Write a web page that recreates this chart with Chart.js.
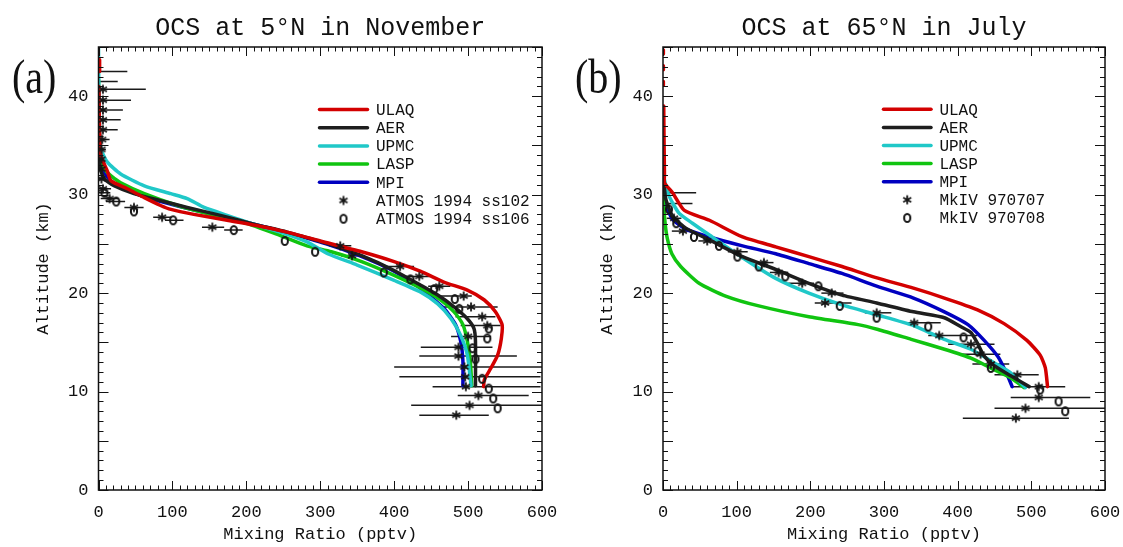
<!DOCTYPE html>
<html>
<head>
<meta charset="utf-8">
<script src="https://cdn.jsdelivr.net/npm/chart.js@4.4.1/dist/chart.umd.min.js"></script>
<style>
html,body{margin:0;padding:0;background:#fff;width:1123px;height:547px;overflow:hidden}
#ca{position:absolute;left:0;top:0}
#cb{position:absolute;left:560px;top:0}
</style>
</head>
<body>
<canvas id="ca" width="560" height="547"></canvas>
<canvas id="cb" width="563" height="547"></canvas>
<script>
// ---------------- DATA ----------------
const modelNames = ['ULAQ', 'AER', 'UPMC', 'LASP', 'MPI'];
const obsNamesA = ['ATMOS 1994 ss102', 'ATMOS 1994 ss106'];
const obsNamesB = ['MkIV 970707', 'MkIV 970708'];
const titleA = 'OCS at 5°N in November';
const titleB = 'OCS at 65°N in July';
const xTickValues = [0, 100, 200, 300, 400, 500, 600];
const yTickValues = [0, 10, 20, 30, 40];

// Panel (a): model profiles (altitude km, mixing ratio pptv)
const aUlaqAlt = [43.7, 42.5, null, 41.0, 38.0, 35.5, 33.9, 32.4, 31.4, 30.6, 29.7, 28.9, 28.5, 28.0, 27.4, 26.8, 26.2, 25.3, 24.2, 23.2, 22.2, 21.1, 20.3, 19.3, 18.1, 16.8, 15.4, 13.7, 12.4, 11.2, 10.5];
const aUlaqVal = [1.5, 1.5, null, 0.5, 1, 2, 3.5, 12, 17, 39, 62, 84, 98, 129, 174, 219, 255, 300, 356, 400, 436, 468, 499, 522, 537, 546, 545, 540, 531, 522, 521];
const aAerAlt = [41, 38, 35, 32.9, 31.6, 30.9, 30.1, 29.4, 28.7, 27.9, 27.0, 26.2, 25.0, 23.8, 22.3, 20.8, 19.8, 18.6, 17.4, 16.4, 15.1, 10.6];
const aAerVal = [0, 0.5, 1, 1.2, 8, 21, 48, 84, 120, 165, 210, 255, 311, 356, 400, 436, 459, 481, 499, 508, 510, 510];
const aUpmcAlt = [45, 40, 36.5, 35.3, 34.6, 33.3, 32.1, 30.9, 30.1, 29.6, 28.7, 27.9, 27.0, 26.2, 25.2, 24.0, 22.85, 21.3, 20.1, 18.9, 17.4, 15.7, 13.7, 10.6];
const aUpmcVal = [0, 0.5, 1.5, 2, 3.5, 12, 30, 62, 98, 120, 143, 174, 210, 246, 282, 310, 350, 400, 436, 459, 477, 490, 499, 504];
const aLaspAlt = [41.7, 38, 35, 33.5, 32.5, 31.9, 31.2, 30.1, 28.9, 28.0, 27.2, 26.0, 24.8, 24.2, 23.2, 21.8, 20.5, 19.3, 18.1, 16.8, 15.1, 13.1, 10.6];
const aLaspVal = [0, 0.5, 1, 3, 9, 17, 30, 62, 107, 152, 196, 241, 282, 315, 356, 400, 436, 463, 481, 493, 499, 503, 505];
const aMpiAlt = [41, 38, 35, 33, 32, 31.2, 30.4, 29.6, 28.8, 28.0, 27.1, 26.2, 25.0, 23.8, 22.3, 20.8, 19.8, 18.4, 16.8, 15.1, 13.1, 10.6];
const aMpiVal = [0, 0.5, 1, 3, 10, 20, 40, 70, 110, 155, 205, 252, 308, 353, 398, 430, 447, 468, 483, 490, 493, 493];

// Panel (a): ATMOS observations with horizontal error-bar limits
const aStarAlt = [42.5, 41.5, 40.7, 39.6, 38.6, 37.6, 36.6, 35.6, 34.6, 33.6, 32.6, 31.6, 30.6, 29.6, 28.7, 27.7, 26.7, 24.8, 23.8, 22.7, 21.7, 20.7, 19.7, 18.6, 17.6, 16.7, 15.6, 14.5, 13.6, 12.5, 11.5, 10.5, 9.6, 8.6, 7.6];
const aStarVal = [null, null, 6, 6, 6, 6, 6, 5, 4, 4, 4, 4, 6, 15, 48, 86, 154, 327, 343, 408, 434, 461, 494, 504, 519, 526, 500, 487, 487, 495, 496, 497, 514, 502, 484];
const aStarLo = [0, 0, 0, 0, 0, 0, 0, 0, 0, 0, 0, 0, 0, 3, 35, 74, 140, 312, 328, 389, 416, 446, 463, 466, 483, 490, 477, 436, 434, 400, 407, 452, 486, 423, 434];
const aStarHi = [39, 26, 64, 44, 33, 30, 26, 15, 10, 9, 8, 7, 17, 27, 61, 99, 170, 342, 358, 427, 448, 476, 505, 540, 537, 544, 531, 533, 566, 620, 598, 598, 582, 620, 528];
const aCircAlt = [30.2, 29.3, 28.3, 27.4, 26.4, 25.3, 24.2, 22.1, 21.4, 20.4, 19.4, 18.4, 16.4, 15.4, 14.4, 13.3, 11.3, 10.3, 9.3, 8.3];
const aCircVal = [8, 24, 48, 101, 183, 252, 293, 386, 422, 454, 482, 488, 528, 526, 506, 510, 519, 528, 534, 540];
const aCircLo = [0, 10, null, 90, 170, null, null, null, null, null, null, null, null, null, null, null, null, null, null, null];
const aCircHi = [16, 36, null, 115, 195, null, null, null, null, null, null, null, null, null, null, null, null, null, null, null];

// Panel (b): model profiles
const bUlaqAlt = [44.7, 44.3, null, 43.1, 42.7, null, 41.5, 41.1, null, 39.0, 35, 32, 31.2, 30.2, 28.4, 27.4, 25.7, 24.7, 23.7, 22.7, 21.6, 20.5, 19.5, 18.3, 16.9, 15.2, 13.7, 12.4, 10.5];
const bUlaqVal = [0.5, 0.5, null, 0.5, 0.5, null, 0.5, 0.5, null, 1, 1.5, 2, 2, 13, 29, 63, 108, 153, 198, 243, 288, 340, 382, 427, 463, 494, 512, 519, 522];
const bAerAlt = [33, 31, 29.5, 27.8, 26.6, 25.4, 23.7, 22.4, 21.0, 19.8, 19.0, 18.1, 17.5, 16.6, 16.0, 14.9, 13.6, 12.6, 11.6, 10.5];
const bAerVal = [0, 1.5, 4, 13, 31, 63, 108, 153, 198, 243, 290, 340, 382, 404, 418, 427, 436, 450, 472, 497];
const bUpmcAlt = [37, 33, 31.5, 29.8, 28.1, 27.1, 25.9, 23.6, 21.5, 20.0, 18.8, 17.8, 16.7, 15.3, 14.3, 12.9, 11.9, 10.4];
const bUpmcVal = [0, 0.5, 2, 8.6, 22, 40, 63, 108, 153, 198, 243, 290, 340, 382, 418, 450, 472, 492];
const bLaspAlt = [32.4, 29, 27, 25.5, 24.0, 22.7, 21.0, 19.7, 18.7, 17.6, 16.8, 16.3, 15.3, 14.3, 13.4, 12.2, 11.4, 10.4];
const bLaspVal = [0, 1, 3, 6, 12, 24, 49, 85, 130, 198, 265, 292, 337, 382, 418, 450, 472, 490];
const bMpiAlt = [31.8, 30.0, 28.9, 27.5, 26.5, 25.7, 24.8, 24.0, 23.0, 22.0, 20.7, 19.5, 18.1, 16.8, 15.2, 13.5, 11.9, 10.5];
const bMpiVal = [0, 2, 4, 13, 31, 63, 108, 153, 198, 243, 290, 340, 382, 414, 436, 455, 466, 474];

// Panel (b): MkIV observations
const bStarAlt = [30.2, 29.1, 27.6, 26.3, 25.3, 24.2, 23.1, 22.1, 21.0, 20.0, 19.0, 18.0, 17.0, 15.7, 14.8, 13.8, 12.8, 11.7, 10.5, 9.4, 8.3, 7.3];
const bStarVal = [null, null, 15, 27, 60, 101, 137, 157, 189, 229, 220, 290, 341, 375, 418, 431, 445, 481, 510, 510, 492, 479];
const bStarLo = [0, 0, 5, 12, 48, 88, 125, 145, 170, 215, 206, 274, 328, 360, 387, 405, 420, 450, 472, 472, 450, 407];
const bStarHi = [45, 40, 25, 42, 72, 115, 150, 170, 205, 245, 256, 310, 377, 427, 450, 458, 470, 510, 546, 580, 600, 551];
const bCircAlt = [28.5, 27.1, 25.7, 24.8, 23.7, 22.7, 21.7, 20.7, 18.7, 17.5, 16.6, 15.5, 14.1, 12.4, 10.2, 9.0, 8.0];
const bCircVal = [8, 18, 42, 76, 101, 130, 166, 211, 240, 290, 360, 408, 427, 445, 512, 537, 546];

// ---------------- STYLE ----------------
const modelColors = ['#d30000', '#1e1e1e', '#20c8c8', '#10c410', '#0000c0'];
const MONO = '"Liberation Mono", "DejaVu Sans Mono", monospace';
const INK = '#111';

function makeStarImg() {
  const c = document.createElement('canvas'); c.width = 12; c.height = 12;
  const g = c.getContext('2d'); g.strokeStyle = '#151515'; g.lineWidth = 1.8;
  for (let k = 0; k < 3; k++) {
    const a = Math.PI / 2 + k * Math.PI / 3, r = 4.6;
    g.beginPath(); g.moveTo(6 + r * Math.cos(a), 6 + r * Math.sin(a));
    g.lineTo(6 - r * Math.cos(a), 6 - r * Math.sin(a)); g.stroke();
  }
  return c;
}
function makeOImg() {
  const c = document.createElement('canvas'); c.width = 12; c.height = 14;
  const g = c.getContext('2d'); g.strokeStyle = '#151515'; g.lineWidth = 2;
  g.beginPath(); g.ellipse(6, 7, 3.1, 4.1, 0, 0, Math.PI * 2); g.stroke();
  return c;
}
const starImg = makeStarImg();
const oImg = makeOImg();

function series(alt, val) { return alt.map((a, i) => ({ x: val[i], y: a })); }

const decoPlugin = {
  id: 'deco',
  beforeDatasetsDraw(chart) {
    const ctx = chart.ctx, xs = chart.scales.x, ys = chart.scales.y, ca = chart.chartArea;
    ctx.save();
    ctx.beginPath(); ctx.rect(ca.left, ca.top, ca.right - ca.left, ca.bottom - ca.top); ctx.clip();
    ctx.strokeStyle = '#1a1a1a'; ctx.lineWidth = 1.5;
    chart.data.datasets.forEach(ds => {
      if (!ds.errLo) return;
      ds.data.forEach((p, i) => {
        const lo = ds.errLo[i], hi = ds.errHi[i];
        if (lo == null || hi == null) return;
        const y = ys.getPixelForValue(p.y);
        ctx.beginPath(); ctx.moveTo(xs.getPixelForValue(lo), y); ctx.lineTo(xs.getPixelForValue(hi), y); ctx.stroke();
      });
    });
    ctx.restore();
  },
  afterDraw(chart) {
    const o = chart.options.plugins.deco;
    const ctx = chart.ctx, xs = chart.scales.x, ys = chart.scales.y, ca = chart.chartArea;
    ctx.save();
    ctx.strokeStyle = INK; ctx.lineWidth = 1;
    for (let v = xs.min; v <= xs.max; v += o.xMinor) {
      const px = Math.round(xs.getPixelForValue(v)) + 0.5;
      const len = (v % o.xMajor === 0) ? 9 : 4.5;
      ctx.beginPath();
      ctx.moveTo(px, ca.bottom); ctx.lineTo(px, ca.bottom - len);
      ctx.moveTo(px, ca.top); ctx.lineTo(px, ca.top + len);
      ctx.stroke();
    }
    for (let a = ys.min; a <= ys.max; a += o.yMinor) {
      const py = Math.round(ys.getPixelForValue(a)) + 0.5;
      const len = (a % o.yMajor === 0) ? 10 : 5;
      ctx.beginPath();
      ctx.moveTo(ca.left, py); ctx.lineTo(ca.left + len, py);
      ctx.moveTo(ca.right, py); ctx.lineTo(ca.right - len, py);
      ctx.stroke();
    }
    ctx.lineWidth = 1.5;
    ctx.strokeRect(ca.left, ca.top, ca.right - ca.left, ca.bottom - ca.top);
    ctx.font = '16px ' + MONO; ctx.fillStyle = INK; ctx.textBaseline = 'middle'; ctx.textAlign = 'left';
    chart.data.datasets.forEach((ds, i) => {
      const y = o.legY + i * o.legDy;
      if (ds.showLine) {
        ctx.strokeStyle = ds.borderColor; ctx.lineWidth = 3.5; ctx.lineCap = 'round';
        ctx.beginPath(); ctx.moveTo(o.legX0, y); ctx.lineTo(o.legX1, y); ctx.stroke();
      } else {
        const img = ds.pointStyle;
        ctx.drawImage(img, (o.legX0 + o.legX1) / 2 - img.width / 2, y - img.height / 2);
      }
      ctx.fillText(ds.label, o.legTx, y + 1);
    });
    ctx.font = '40px "Liberation Serif", "DejaVu Serif", serif';
    ctx.textBaseline = 'alphabetic';
    ctx.translate(o.labX, o.labY); ctx.scale(1, 1.2);
    ctx.fillText(o.label, 0, 0);
    ctx.restore();
  }
};

function makePanel(id, title, models, obsNames, obs, geo) {
  const datasets = models.map((m, k) => ({
    label: modelNames[k], data: series(m[0], m[1]), showLine: true,
    borderColor: modelColors[k], backgroundColor: modelColors[k], borderWidth: 3.5,
    pointRadius: 0, tension: 0.2, clip: 0, order: k + 1,
    borderCapStyle: 'round', borderJoinStyle: 'round'
  }));
  obs.forEach((ob, k) => {
    datasets.push({
      label: obsNames[k], data: series(ob.alt, ob.val), showLine: false,
      pointStyle: k === 0 ? starImg : oImg, pointRadius: 5, clip: 0, order: 0,
      errLo: ob.lo, errHi: ob.hi
    });
  });
  return new Chart(document.getElementById(id), {
    type: 'scatter',
    data: { datasets },
    plugins: [decoPlugin],
    options: {
      responsive: false, animation: false, devicePixelRatio: 1, events: [],
      layout: { padding: { left: 0, right: geo.padRight, top: 0, bottom: 0 } },
      plugins: {
        legend: { display: false }, tooltip: { enabled: false },
        title: {
          display: true, text: title, fullSize: false, color: INK,
          font: { family: MONO, size: 25, weight: 'normal' },
          padding: { top: 13, bottom: 4 }
        },
        deco: geo.deco
      },
      scales: {
        x: {
          type: 'linear', position: 'bottom', min: 0, max: 600,
          grid: { display: false, drawTicks: false }, border: { display: false },
          afterBuildTicks: s => { s.ticks = xTickValues.map(v => ({ value: v })); },
          ticks: { padding: 12, color: INK, font: { family: MONO, size: 17 }, maxRotation: 0, autoSkip: false },
          title: { display: true, text: 'Mixing Ratio (pptv)', color: INK, font: { family: MONO, size: 17 }, padding: { top: 0, bottom: 2 } },
          afterFit: s => { s.height = 57; s.paddingLeft = 0; s.paddingRight = 0; }
        },
        y: {
          type: 'linear', position: 'left', min: 0, max: 45,
          grid: { display: false, drawTicks: false }, border: { display: false },
          afterBuildTicks: s => { s.ticks = yTickValues.map(v => ({ value: v })); },
          ticks: { padding: 10, color: INK, font: { family: MONO, size: 17 }, autoSkip: false },
          title: { display: true, text: 'Altitude (km)', color: INK, font: { family: MONO, size: 17 }, padding: { top: geo.yTitlePad, bottom: 0 } },
          afterFit: s => { s.width = geo.yWidth; s.paddingTop = 0; s.paddingBottom = 0; }
        }
      }
    }
  });
}

makePanel('ca', titleA,
  [[aUlaqAlt, aUlaqVal], [aAerAlt, aAerVal], [aUpmcAlt, aUpmcVal], [aLaspAlt, aLaspVal], [aMpiAlt, aMpiVal]],
  obsNamesA,
  [{ alt: aStarAlt, val: aStarVal, lo: aStarLo, hi: aStarHi }, { alt: aCircAlt, val: aCircVal, lo: aCircLo, hi: aCircHi }],
  { padRight: 18, yWidth: 98.5, yTitlePad: 33,
    deco: { xMinor: 10, xMajor: 100, yMinor: 1, yMajor: 5, legX0: 319.5, legX1: 367.5, legY: 109.5, legDy: 18.2, legTx: 376, label: '(a)', labX: 12, labY: 93 } });

makePanel('cb', titleB,
  [[bUlaqAlt, bUlaqVal], [bAerAlt, bAerVal], [bUpmcAlt, bUpmcVal], [bLaspAlt, bLaspVal], [bMpiAlt, bMpiVal]],
  obsNamesB,
  [{ alt: bStarAlt, val: bStarVal, lo: bStarLo, hi: bStarHi }, { alt: bCircAlt, val: bCircVal, lo: null, hi: null }],
  { padRight: 18, yWidth: 103, yTitlePad: 37,
    deco: { xMinor: 10, xMajor: 100, yMinor: 1, yMajor: 5, legX0: 323.5, legX1: 371, legY: 109.3, legDy: 18.1, legTx: 379.4, label: '(b)', labX: 15, labY: 93 } });
</script>
</body>
</html>
